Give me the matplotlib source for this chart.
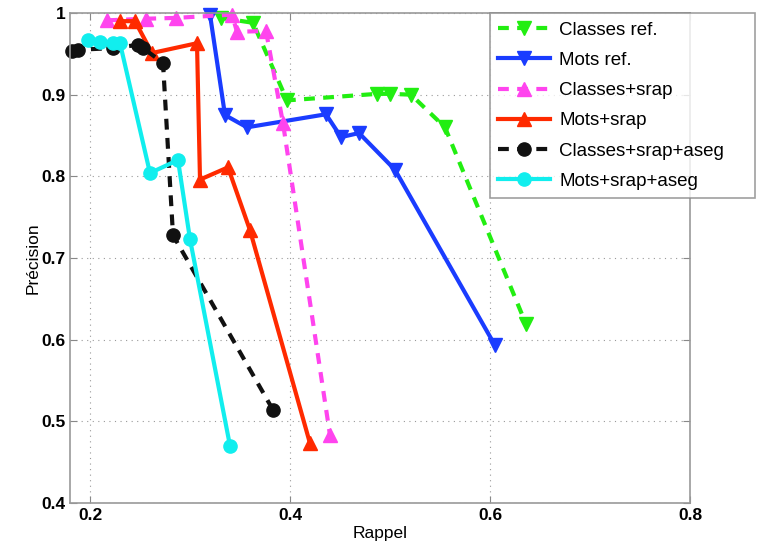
import matplotlib
matplotlib.use("Agg")
import matplotlib.pyplot as plt

plt.rcParams['font.family'] = ['Liberation Sans', 'DejaVu Sans']

# Data (Rappel, Précision)
classes_ref_x = [0.331, 0.363, 0.397, 0.487, 0.500, 0.521, 0.555, 0.636]
classes_ref_y = [0.994, 0.988, 0.893, 0.901, 0.901, 0.900, 0.860, 0.619]

mots_ref_x = [0.320, 0.335, 0.357, 0.436, 0.451, 0.469, 0.505, 0.605]
mots_ref_y = [0.998, 0.875, 0.860, 0.876, 0.848, 0.853, 0.808, 0.593]

classes_srap_x = [0.217, 0.256, 0.286, 0.342, 0.347, 0.376, 0.393, 0.440]
classes_srap_y = [0.991, 0.993, 0.994, 0.998, 0.977, 0.978, 0.865, 0.483]

mots_srap_x = [0.230, 0.245, 0.262, 0.307, 0.310, 0.338, 0.360, 0.420]
mots_srap_y = [0.990, 0.990, 0.951, 0.963, 0.796, 0.811, 0.734, 0.473]

classes_aseg_x = [0.182, 0.188, 0.223, 0.248, 0.253, 0.273, 0.283, 0.383]
classes_aseg_y = [0.953, 0.955, 0.957, 0.961, 0.957, 0.939, 0.728, 0.514]

mots_aseg_x = [0.198, 0.210, 0.223, 0.230, 0.260, 0.288, 0.300, 0.340]
mots_aseg_y = [0.967, 0.965, 0.963, 0.963, 0.804, 0.820, 0.723, 0.470]

labels = ["Classes ref.", "Mots ref.", "Classes+srap", "Mots+srap",
          "Classes+srap+aseg", "Mots+srap+aseg"]
x_ticks = [0.2, 0.4, 0.6, 0.8]
y_ticks = [0.4, 0.5, 0.6, 0.7, 0.8, 0.9, 1.0]
y_tick_labels = ["0.4", "0.5", "0.6", "0.7", "0.8", "0.9", "1"]

fig = plt.figure(figsize=(7.6, 5.52), dpi=100)
ax = fig.add_axes([70/760, 1-503/552, 620/760, 490/552])

lw = 3.0
ms = 9.5
dash = (0, (2.6, 2.0))
common = dict(lw=lw, ms=ms, clip_on=False)
ax.plot(classes_ref_x, classes_ref_y, color='#22ee11', linestyle=dash,
        marker='v', label=labels[0], **common)
ax.plot(mots_ref_x, mots_ref_y, color='#1a3cff', linestyle='-',
        marker='v', label=labels[1], **common)
ax.plot(classes_srap_x, classes_srap_y, color='#ff44ee', linestyle=dash,
        marker='^', label=labels[2], **common)
ax.plot(mots_srap_x, mots_srap_y, color='#ff2a00', linestyle='-',
        marker='^', label=labels[3], **common)
ax.plot(classes_aseg_x, classes_aseg_y, color='#111111', linestyle=dash,
        marker='o', label=labels[4], **common)
ax.plot(mots_aseg_x, mots_aseg_y, color='#11eeee', linestyle='-',
        marker='o', label=labels[5], **common)

ax.set_xlim(0.18, 0.8)
ax.set_ylim(0.4, 1.0)
ax.set_xticks(x_ticks)
ax.set_xticklabels([f"{t:.1f}" for t in x_ticks], fontweight='bold', fontsize=12.5)
ax.set_yticks(y_ticks)
ax.set_yticklabels(y_tick_labels, fontweight='bold', fontsize=12.5)
ax.tick_params(direction='in', top=True, right=True, length=5, color='#888888')
ax.grid(True, linestyle=(0, (1, 4)), color='#999999', lw=0.8)
for s in ax.spines.values():
    s.set_color('#999999')
    s.set_linewidth(1.2)
ax.set_xlabel("Rappel", fontsize=12.5, labelpad=2)
ax.set_ylabel("Précision", fontsize=12.5, labelpad=0)

leg = fig.legend(loc='upper left',
                 bbox_to_anchor=(490/760, 1-202/552, 265/760, 189/552),
                 bbox_transform=fig.transFigure,
                 mode='expand', numpoints=1, handlelength=2.75, handletextpad=0.5,
                 fontsize=13.5, frameon=True, fancybox=False, borderaxespad=0,
                 labelspacing=0.7, borderpad=0.45)
leg.get_frame().set_edgecolor('#888888')
leg.get_frame().set_linewidth(1.2)
leg.set_zorder(10)

fig.savefig("out.png", dpi=100)
